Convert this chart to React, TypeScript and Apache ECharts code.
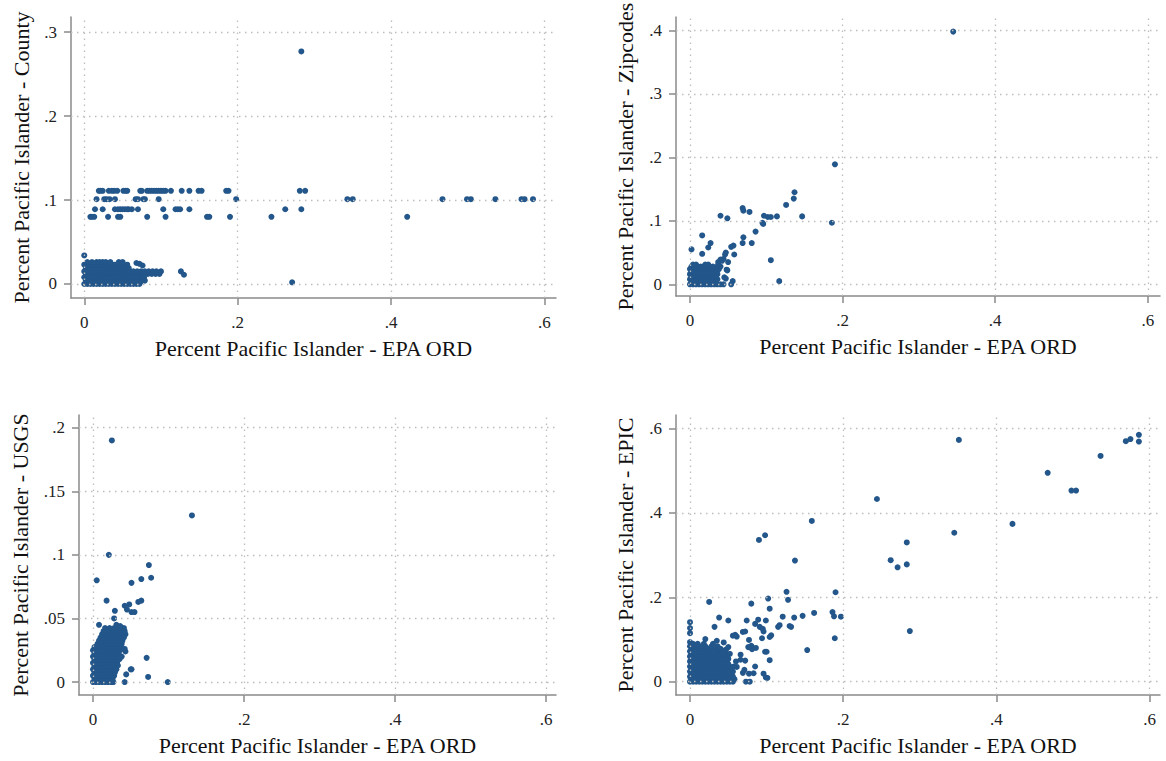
import React, { useEffect, useRef } from "react";
import * as echarts from "echarts";

// ---------- tick values and titles ----------
const xTicks = [0, 0.2, 0.4, 0.6];
const yTicksCounty = [0, 0.1, 0.2, 0.3];
const yTicksZip = [0, 0.1, 0.2, 0.3, 0.4];
const yTicksUsgs = [0, 0.05, 0.1, 0.15, 0.2];
const yTicksEpic = [0, 0.2, 0.4, 0.6];

const xTitle = "Percent Pacific Islander - EPA ORD";
const yTitleCounty = "Percent Pacific Islander - County";
const yTitleZip = "Percent Pacific Islander - Zipcodes";
const yTitleUsgs = "Percent Pacific Islander - USGS";
const yTitleEpic = "Percent Pacific Islander - EPIC";

// ---------- County panel ----------
const countyScattered: [number, number][] = [
  [0.019, 0.111], [0.021, 0.111], [0.024, 0.111], [0.032, 0.111], [0.036, 0.111], [0.039, 0.111],
  [0.043, 0.111], [0.051, 0.111], [0.054, 0.111], [0.056, 0.111], [0.073, 0.111], [0.075, 0.111],
  [0.082, 0.111], [0.085, 0.111], [0.088, 0.111], [0.091, 0.111], [0.094, 0.111], [0.097, 0.111],
  [0.1, 0.111], [0.103, 0.111], [0.106, 0.111], [0.113, 0.111], [0.127, 0.111], [0.137, 0.111],
  [0.149, 0.111], [0.153, 0.111], [0.185, 0.111], [0.188, 0.111], [0.281, 0.111], [0.288, 0.111],
  [0.016, 0.101], [0.026, 0.101], [0.029, 0.101], [0.033, 0.101], [0.04, 0.101], [0.067, 0.101],
  [0.07, 0.101], [0.077, 0.101], [0.079, 0.101], [0.097, 0.101], [0.198, 0.101], [0.343, 0.101],
  [0.35, 0.101], [0.467, 0.101], [0.499, 0.101], [0.504, 0.101], [0.536, 0.101], [0.57, 0.101],
  [0.574, 0.101], [0.585, 0.101],
  [0.014, 0.089], [0.024, 0.089], [0.04, 0.089], [0.044, 0.089], [0.047, 0.089], [0.05, 0.089],
  [0.053, 0.089], [0.056, 0.089], [0.058, 0.089], [0.062, 0.089], [0.07, 0.089], [0.103, 0.089],
  [0.119, 0.089], [0.122, 0.089], [0.125, 0.089], [0.137, 0.089], [0.262, 0.089], [0.283, 0.089],
  [0.008, 0.08], [0.01, 0.08], [0.013, 0.08], [0.031, 0.08], [0.044, 0.08], [0.047, 0.08],
  [0.082, 0.08], [0.106, 0.08], [0.16, 0.08], [0.163, 0.08], [0.19, 0.08], [0.244, 0.08], [0.421, 0.08],
  [0.283, 0.277], [0.271, 0.002], [0, 0.034], [0.126, 0.015], [0.13, 0.011],
  [0.076, 0.022], [0.074, 0.003], [0.078, 0.008], [0.068, 0.025], [0.072, 0.024],
];
const countyClusterRows: [number, number[]][] = [
  [0, [0, 0.004, 0.008, 0.012, 0.016, 0.02, 0.024, 0.028, 0.032, 0.036, 0.04, 0.044, 0.048, 0.052, 0.056, 0.06, 0.064, 0.068, 0.072]],
  [0.004, [0.002, 0.006, 0.01, 0.014, 0.018, 0.022, 0.026, 0.03, 0.034, 0.038, 0.042, 0.046, 0.05, 0.054, 0.058, 0.062, 0.066, 0.07, 0.074, 0.079]],
  [0.008, [0, 0.004, 0.008, 0.012, 0.016, 0.02, 0.024, 0.028, 0.032, 0.036, 0.04, 0.044, 0.048, 0.052, 0.056, 0.06, 0.064, 0.068, 0.072, 0.076]],
  [0.012, [0.002, 0.006, 0.01, 0.014, 0.018, 0.022, 0.026, 0.03, 0.034, 0.038, 0.042, 0.046, 0.05, 0.054, 0.058, 0.062, 0.066, 0.07, 0.074, 0.078, 0.083, 0.088, 0.093, 0.098]],
  [0.015, [0, 0.004, 0.008, 0.012, 0.016, 0.02, 0.024, 0.028, 0.032, 0.036, 0.04, 0.044, 0.048, 0.052, 0.056, 0.06, 0.064, 0.069, 0.074, 0.079, 0.084, 0.089, 0.094, 0.1]],
  [0.019, [0.002, 0.006, 0.01, 0.014, 0.018, 0.022, 0.026, 0.03, 0.034, 0.038, 0.042, 0.046, 0.05, 0.054, 0.058]],
  [0.023, [0, 0.004, 0.008, 0.012, 0.016, 0.02, 0.024, 0.028, 0.032, 0.036, 0.04, 0.044, 0.05, 0.056]],
  [0.026, [0.004, 0.01, 0.016, 0.02, 0.024, 0.028, 0.034, 0.045, 0.05]],
];

// ---------- Zipcodes panel ----------
const zipScattered: [number, number][] = [
  [0.345, 0.398], [0.19, 0.189], [0.137, 0.145], [0.136, 0.135], [0.126, 0.125], [0.147, 0.107],
  [0.186, 0.097], [0.114, 0.107], [0.106, 0.106], [0.102, 0.106], [0.097, 0.108], [0.095, 0.097],
  [0.096, 0.095], [0.069, 0.12], [0.07, 0.116], [0.078, 0.114], [0.086, 0.083], [0.081, 0.065],
  [0.07, 0.074], [0.069, 0.065], [0.04, 0.108], [0.049, 0.104], [0.106, 0.038], [0.117, 0.005],
  [0.016, 0.077], [0.027, 0.065], [0.024, 0.058], [0.002, 0.055], [0.016, 0.048], [0.047, 0.05],
  [0.054, 0.059], [0.057, 0.061], [0.058, 0.047], [0.05, 0.035], [0.048, 0.023], [0.045, 0.011],
  [0.056, 0.005], [0.054, 0], [0.046, 0.047], [0.04, 0.039], [0.037, 0.035], [0.044, 0.04],
  [0.042, 0.037], [0.049, 0.022], [0.047, 0.009],
];
const zipClusterRows: [number, number[]][] = [
  [0, [0, 0.004, 0.008, 0.012, 0.016, 0.02, 0.024, 0.028, 0.032, 0.036, 0.04, 0.044]],
  [0.004, [0.002, 0.006, 0.01, 0.014, 0.018, 0.022, 0.026, 0.03, 0.034]],
  [0.008, [0, 0.004, 0.008, 0.012, 0.016, 0.02, 0.024, 0.028, 0.032, 0.036]],
  [0.012, [0.002, 0.006, 0.01, 0.014, 0.018, 0.022, 0.026, 0.03, 0.034]],
  [0.016, [0, 0.004, 0.008, 0.012, 0.016, 0.02, 0.024, 0.028, 0.032, 0.036]],
  [0.02, [0.002, 0.006, 0.01, 0.014, 0.018, 0.022, 0.026, 0.03, 0.035]],
  [0.024, [0, 0.004, 0.008, 0.012, 0.016, 0.02, 0.024, 0.028, 0.033, 0.038]],
  [0.028, [0.002, 0.006, 0.01, 0.014, 0.018, 0.022, 0.026, 0.03, 0.036, 0.04]],
  [0.031, [0.004, 0.008, 0.02, 0.024, 0.037]],
];

// ---------- USGS panel ----------
const usgsScattered: [number, number][] = [
  [0.025, 0.19], [0.131, 0.131], [0.021, 0.1], [0.074, 0.092], [0.005, 0.08], [0.077, 0.082],
  [0.064, 0.081], [0.051, 0.078], [0.018, 0.064], [0.064, 0.064], [0.06, 0.063], [0.048, 0.061],
  [0.042, 0.06], [0.045, 0.057], [0.051, 0.055], [0.055, 0.055], [0.029, 0.056], [0.028, 0.05],
  [0.008, 0.045], [0.071, 0.019], [0.043, 0.024], [0.05, 0.01], [0.044, 0.006], [0.073, 0.004],
  [0.042, 0], [0.099, 0], [0.042, 0.026], [0.051, 0.01], [0.033, 0.013], [0.035, 0.018],
  [0.038, 0.02], [0.031, 0.045], [0.036, 0.044],
];
const usgsClusterRows: [number, number[]][] = [
  [0, [0, 0.004, 0.008, 0.012, 0.016, 0.02, 0.024, 0.027]],
  [0.0025, [0.002, 0.006, 0.01, 0.014, 0.018, 0.022, 0.026]],
  [0.005, [0, 0.004, 0.008, 0.012, 0.016, 0.02, 0.024, 0.028]],
  [0.0075, [0.002, 0.006, 0.01, 0.014, 0.018, 0.022, 0.026, 0.029]],
  [0.01, [0, 0.004, 0.008, 0.012, 0.016, 0.02, 0.024, 0.028, 0.031]],
  [0.0125, [0.002, 0.006, 0.01, 0.014, 0.018, 0.022, 0.026, 0.03]],
  [0.015, [0, 0.004, 0.008, 0.012, 0.016, 0.02, 0.024, 0.028, 0.032]],
  [0.0175, [0.002, 0.006, 0.01, 0.014, 0.018, 0.022, 0.026, 0.03, 0.033]],
  [0.02, [0, 0.004, 0.008, 0.012, 0.016, 0.02, 0.024, 0.028, 0.032, 0.035]],
  [0.0225, [0.002, 0.006, 0.01, 0.014, 0.018, 0.022, 0.026, 0.03, 0.034]],
  [0.025, [0, 0.004, 0.008, 0.012, 0.016, 0.02, 0.024, 0.028, 0.032, 0.036]],
  [0.0275, [0.002, 0.006, 0.01, 0.014, 0.018, 0.022, 0.026, 0.03, 0.034, 0.037]],
  [0.03, [0.006, 0.01, 0.014, 0.018, 0.022, 0.026, 0.03, 0.034, 0.038]],
  [0.0325, [0.008, 0.012, 0.016, 0.02, 0.024, 0.028, 0.032, 0.036, 0.039]],
  [0.035, [0.01, 0.014, 0.018, 0.022, 0.026, 0.03, 0.034, 0.038, 0.041]],
  [0.0375, [0.012, 0.016, 0.02, 0.024, 0.028, 0.032, 0.036, 0.04, 0.043]],
  [0.04, [0.014, 0.018, 0.022, 0.026, 0.03, 0.034, 0.038, 0.042]],
  [0.0425, [0.016, 0.022, 0.028, 0.032, 0.036, 0.041]],
];

// ---------- EPIC panel ----------
const epicScattered: [number, number][] = [
  [0.351, 0.573], [0.586, 0.585], [0.586, 0.569], [0.575, 0.575], [0.569, 0.57], [0.536, 0.535],
  [0.467, 0.495], [0.498, 0.453], [0.504, 0.453], [0.421, 0.374], [0.345, 0.353], [0.283, 0.33],
  [0.283, 0.278], [0.262, 0.288], [0.271, 0.271], [0.287, 0.12], [0.244, 0.433], [0.159, 0.381],
  [0.098, 0.347], [0.09, 0.336], [0.137, 0.287], [0.19, 0.212], [0.126, 0.213], [0.128, 0.194],
  [0.025, 0.189], [0.08, 0.185], [0.102, 0.197], [0.104, 0.173], [0.162, 0.163], [0.186, 0.165],
  [0.188, 0.155], [0.197, 0.154], [0.147, 0.156], [0.136, 0.152], [0.121, 0.154], [0.153, 0.075],
  [0.189, 0.103], [0.038, 0.152], [0.05, 0.145], [0.074, 0.145], [0.032, 0.13], [0.089, 0.147],
  [0.099, 0.145], [0.085, 0.137], [0.091, 0.13], [0.095, 0.125], [0.115, 0.13], [0.117, 0.134],
  [0.13, 0.132], [0.132, 0.13], [0.106, 0.11], [0.104, 0.106], [0.094, 0.103], [0.096, 0.119],
  [0.069, 0.118], [0.098, 0.071], [0.104, 0.051], [0.096, 0.019], [0.099, 0.01], [0, 0.141],
  [0, 0.127], [0, 0.115], [0.077, 0.099], [0.08, 0.085], [0.081, 0.077], [0.061, 0.107],
  [0.056, 0.109], [0.072, 0.05], [0.077, 0.019], [0.073, 0], [0.078, 0], [0.083, 0.02],
  [0.061, 0.035], [0.02, 0.101], [0.035, 0.097], [0.044, 0.093], [0.059, 0.111], [0.072, 0.119],
  [0.086, 0.08], [0.1, 0.071], [0.069, 0.021], [0.085, 0.036], [0.101, 0.009], [0.071, 0.028],
  [0.057, 0.036], [0.06, 0.048], [0.066, 0.052], [0.066, 0.064], [0.076, 0.082], [0.047, 0.076],
  [0.05, 0.082], [0.042, 0.07], [0, 0.094], [0.004, 0.09],
];
const epicClusterRows: [number, number[]][] = [
  [0, [0, 0.004, 0.008, 0.012, 0.016, 0.02, 0.024, 0.028, 0.032, 0.036, 0.04, 0.044, 0.048, 0.052, 0.056]],
  [0.006, [0.002, 0.006, 0.01, 0.014, 0.018, 0.022, 0.026, 0.03, 0.034, 0.038, 0.042, 0.046, 0.05, 0.054, 0.058]],
  [0.012, [0, 0.004, 0.008, 0.012, 0.016, 0.02, 0.024, 0.028, 0.032, 0.036, 0.04, 0.044, 0.048, 0.052, 0.056]],
  [0.018, [0.002, 0.006, 0.01, 0.014, 0.018, 0.022, 0.026, 0.03, 0.034, 0.038, 0.042, 0.046, 0.05, 0.054]],
  [0.024, [0, 0.004, 0.008, 0.012, 0.016, 0.02, 0.024, 0.028, 0.032, 0.036, 0.04, 0.044, 0.048, 0.052, 0.056]],
  [0.03, [0.002, 0.006, 0.01, 0.014, 0.018, 0.022, 0.026, 0.03, 0.034, 0.038, 0.042, 0.046, 0.05, 0.054]],
  [0.036, [0, 0.004, 0.008, 0.012, 0.016, 0.02, 0.024, 0.028, 0.032, 0.036, 0.04, 0.044, 0.048, 0.052]],
  [0.042, [0.002, 0.006, 0.01, 0.014, 0.018, 0.022, 0.026, 0.03, 0.034, 0.038, 0.042, 0.046, 0.05]],
  [0.048, [0, 0.004, 0.008, 0.012, 0.016, 0.02, 0.024, 0.028, 0.032, 0.036, 0.04, 0.044, 0.048]],
  [0.054, [0.002, 0.006, 0.01, 0.014, 0.018, 0.022, 0.026, 0.03, 0.034, 0.038, 0.042, 0.046, 0.05]],
  [0.06, [0, 0.004, 0.008, 0.012, 0.016, 0.02, 0.024, 0.028, 0.032, 0.036, 0.04, 0.044, 0.048]],
  [0.066, [0.002, 0.006, 0.01, 0.014, 0.018, 0.022, 0.026, 0.03, 0.034, 0.038, 0.042, 0.047, 0.052]],
  [0.072, [0, 0.004, 0.008, 0.012, 0.016, 0.02, 0.024, 0.028, 0.032, 0.036, 0.04, 0.044]],
  [0.078, [0.002, 0.006, 0.01, 0.014, 0.018, 0.024, 0.03, 0.036, 0.04]],
  [0.084, [0, 0.004, 0.012, 0.02, 0.028, 0.036]],
  [0.09, [0.002, 0.01, 0.018, 0.03]],
];

// ---------- styling ----------
const FONT = "'Liberation Serif', 'Times New Roman', 'DejaVu Serif', serif";
const DOT = "#23568a";
const AXIS_GRAY = "#8a8a8a";
const GRID_GRAY = "#bdbdbd";

const rowsToPoints = (rows: [number, number[]][]) =>
  rows.flatMap(([y, xs]) => xs.map((x) => [x, y] as [number, number]));

const fmt = (v: number) => {
  if (Math.abs(v) < 1e-9) return "0";
  return String(+v.toFixed(3)).replace(/^0\./, ".");
};

type Panel = {
  grid: { left: number; top: number; width: number; height: number };
  xRange: [number, number];
  yRange: [number, number];
  yTicks: number[];
  yTitle: string;
  yNameGap: number;
  points: [number, number][];
};

const panels: Panel[] = [
  {
    grid: { left: 71, top: 17, width: 485, height: 281 },
    xRange: [-0.0173, 0.615],
    yRange: [-0.0167, 0.318],
    yTicks: yTicksCounty,
    yTitle: yTitleCounty,
    yNameGap: 39,
    points: [...rowsToPoints(countyClusterRows), ...countyScattered],
  },
  {
    grid: { left: 676, top: 17, width: 484, height: 279 },
    xRange: [-0.0183, 0.616],
    yRange: [-0.0184, 0.421],
    yTicks: yTicksZip,
    yTitle: yTitleZip,
    yNameGap: 40,
    points: [...rowsToPoints(zipClusterRows), ...zipScattered],
  },
  {
    grid: { left: 79, top: 415, width: 477, height: 280 },
    xRange: [-0.0185, 0.613],
    yRange: [-0.0102, 0.21],
    yTicks: yTicksUsgs,
    yTitle: yTitleUsgs,
    yNameGap: 48,
    points: [...rowsToPoints(usgsClusterRows), ...usgsScattered],
  },
  {
    grid: { left: 676, top: 415, width: 484, height: 280 },
    xRange: [-0.0183, 0.6136],
    yRange: [-0.0315, 0.632],
    yTicks: yTicksEpic,
    yTitle: yTitleEpic,
    yNameGap: 40,
    points: [...rowsToPoints(epicClusterRows), ...epicScattered],
  },
];

function buildOption() {
  const grid: any[] = [];
  const xAxis: any[] = [];
  const yAxis: any[] = [];
  const series: any[] = [];
  panels.forEach((p, i) => {
    grid.push({ ...p.grid, containLabel: false });
    xAxis.push({
      type: "value",
      gridIndex: i,
      min: p.xRange[0],
      max: p.xRange[1],
      name: xTitle,
      nameLocation: "middle",
      nameGap: 39,
      nameTextStyle: { fontFamily: FONT, fontSize: 22, color: "#111" },
      axisLine: { show: true, onZero: false, lineStyle: { color: AXIS_GRAY, width: 1.5 } },
      axisTick: { show: true, length: 7, customValues: xTicks, lineStyle: { color: AXIS_GRAY, width: 1.5 } },
      axisLabel: { customValues: xTicks, formatter: fmt, margin: 16, fontFamily: FONT, fontSize: 17, color: "#222" },
      splitLine: { show: false },
    });
    yAxis.push({
      type: "value",
      gridIndex: i,
      min: p.yRange[0],
      max: p.yRange[1],
      name: p.yTitle,
      nameLocation: "middle",
      nameGap: p.yNameGap,
      nameTextStyle: { fontFamily: FONT, fontSize: 22, color: "#111" },
      axisLine: { show: true, onZero: false, lineStyle: { color: AXIS_GRAY, width: 1.5 } },
      axisTick: { show: true, length: 7, customValues: p.yTicks, lineStyle: { color: AXIS_GRAY, width: 1.5 } },
      axisLabel: { customValues: p.yTicks, formatter: fmt, margin: 14, fontFamily: FONT, fontSize: 17, color: "#222" },
      splitLine: { show: false },
    });
    series.push({
      type: "scatter",
      xAxisIndex: i,
      yAxisIndex: i,
      data: [],
      silent: true,
      z: 1,
      markLine: {
        silent: true,
        symbol: ["none", "none"],
        label: { show: false },
        animation: false,
        lineStyle: { type: [1.5, 4.5], color: GRID_GRAY, width: 1.3 },
        emphasis: { disabled: true },
        data: [...xTicks.map((v) => ({ xAxis: v })), ...p.yTicks.map((v) => ({ yAxis: v }))],
      },
    });
    series.push({
      type: "scatter",
      xAxisIndex: i,
      yAxisIndex: i,
      z: 3,
      symbol: "circle",
      symbolSize: 6,
      itemStyle: { color: DOT, opacity: 1 },
      data: p.points,
      silent: true,
    });
  });
  return {
    animation: false,
    backgroundColor: "#ffffff",
    grid,
    xAxis,
    yAxis,
    series,
  };
}

export default function App() {
  const ref = useRef<HTMLDivElement>(null);
  useEffect(() => {
    if (!ref.current) return;
    const chart = echarts.init(ref.current, undefined, { renderer: "svg" });
    chart.setOption(buildOption() as any);
    return () => chart.dispose();
  }, []);
  return (
    <div
      ref={ref}
      style={{ position: "absolute", left: 0, top: 0, width: 1166, height: 761, background: "#fff" }}
    />
  );
}
